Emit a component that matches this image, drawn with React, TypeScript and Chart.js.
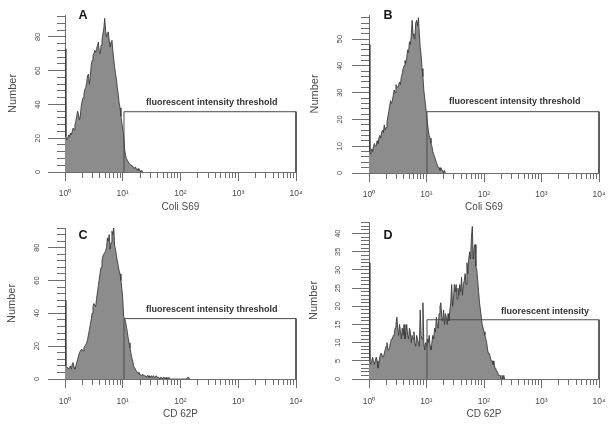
import React, { useEffect, useRef } from "react";
import { Chart, registerables } from "chart.js";

Chart.register(...registerables);

// ---------- data ----------
// Histogram counts per channel, 64 channels per decade, channel 0 = 10^0
const CHANNELS_PER_DECADE = 64;
const X_MIN = 1;
const X_MAX = 10000;
const DECADE_TICKS = [1, 10, 100, 1000, 10000];
const DECADE_LABELS = ["10⁰", "10¹", "10²", "10³", "10⁴"];
const MINOR_MULTIPLIERS = [1, 2, 3, 4, 5, 6, 7, 8, 9];

const countsA = [
  73, 21, 19, 20, 22, 21, 23, 22, 24, 26, 25, 28, 30, 33, 36, 34,
  31, 33, 39, 42, 44, 46, 49, 50, 53, 57, 58, 52, 56, 63, 66, 69,
  70, 72, 71, 73, 75, 77, 71, 70, 75, 78, 82, 85, 91, 84, 80, 82,
  83, 78, 74, 77, 78, 72, 67, 62, 58, 55, 50, 46, 41, 38, 33, 29,
  25, 22, 14, 10, 8, 7, 6, 5, 5, 4, 4, 3, 3, 2, 3, 2,
  1, 2, 1, 1, 0, 1, 0,
];

const countsB = [
  48, 8, 7, 9, 8, 10, 11, 10, 10, 12, 11, 13, 14, 13, 15, 16,
  15, 18, 16, 17, 19, 21, 23, 25, 27, 26, 27, 29, 31, 30, 33, 32,
  32, 33, 34, 33, 36, 37, 39, 40, 42, 41, 43, 46, 45, 49, 48, 51,
  57, 52, 51, 50, 56, 57, 55, 58, 52, 47, 44, 39, 36, 31, 28, 25,
  22, 19, 16, 14, 13, 11, 10, 8, 7, 6, 5, 4, 3, 2, 2, 1,
  2, 1, 1, 0, 1, 0,
];

const countsC = [
  48, 8, 7, 7, 6, 7, 8, 6, 9, 10, 7, 6, 8, 10, 12, 14,
  16, 17, 18, 18, 17, 19, 20, 21, 22, 24, 27, 30, 33, 36, 40, 44,
  46, 45, 44, 49, 53, 57, 61, 65, 68, 72, 75, 76, 77, 78, 80, 86,
  84, 88, 79, 83, 90, 88, 93, 81, 79, 75, 72, 69, 66, 64, 60, 55,
  49, 38, 37, 35, 32, 29, 25, 22, 19, 16, 13, 11, 8, 7, 6, 5,
  4, 4, 3, 3, 2, 2, 3, 2, 2, 2, 1, 2, 2, 1, 2, 1,
  2, 1, 2, 1, 1, 2, 1, 1, 1, 0, 1, 1, 0, 1, 1, 0,
  1, 0, 0, 1, 0, 0, 0, 0, 0, 0, 0, 0, 0, 0, 0, 0,
  0, 0, 0, 0, 0, 0, 0, 0, 1, 1, 0,
];

const countsD = [
  32, 5, 4, 5, 6, 5, 4, 5, 6, 5, 3, 4, 6, 7, 7, 6,
  6, 7, 8, 9, 10, 8, 8, 9, 10, 11, 11, 12, 12, 14, 15, 17,
  14, 12, 15, 13, 11, 14, 12, 15, 11, 13, 15, 12, 11, 14, 13, 10,
  12, 11, 13, 10, 9, 12, 11, 10, 9, 19, 12, 11, 21, 10, 8, 10,
  9, 11, 10, 12, 9, 8, 10, 12, 11, 14, 13, 17, 15, 14, 18, 20,
  21, 17, 16, 19, 15, 18, 17, 15, 18, 16, 19, 21, 26, 20, 22, 26,
  24, 26, 22, 25, 23, 26, 24, 28, 23, 26, 27, 29, 26, 32, 29, 33,
  35, 33, 39, 42, 33, 36, 37, 31, 30, 27, 24, 21, 19, 17, 15, 14,
  13, 12, 11, 10, 8, 7, 7, 6, 5, 5, 4, 5, 3, 3, 2, 2,
  1, 1, 1, 0, 1, 0, 1, 0,
];

// gate (threshold) start value and level
const gateStarts = [10.5, 10.2, 10.5, 10.2];
const gateLevels = [35.7, 22.9, 36.8, 16.3];
const yMaxes = [93, 59, 92, 43.2];
const yMinorSteps = [4, 2, 4, 1];
const yMajorSteps = [20, 10, 20, 5];
const xTitles = ["Coli S69", "Coli S69", "CD 62P", "CD 62P"];
const panelLetters = ["A", "B", "C", "D"];
const gateTexts = [
  "fluorescent intensity threshold",
  "fluorescent intensity threshold",
  "fluorescent intensity threshold",
  "fluorescent intensity",
];
const yTitle = "Number";

// ---------- layout / style ----------
const W = 306;
const H = 213;
const FONT_FAMILY = "'Liberation Sans', Arial, Helvetica, sans-serif";
const AXIS_COLOR = "#6e6e6e";
const TEXT_COLOR = "#4a4a4a";

type Layout = {
  left: number; top: number;
  areaLeft: number; areaTop: number; areaBottom: number; areaRight: number;
  yLabelPad: number; yTitlePad: number; xLabelPad: number; xTitlePad: number;
  letterPos: [number, number]; textPos: [number, number];
};

const layouts: Layout[] = [
  { left: 0, top: 0, areaLeft: 65, areaTop: 15, areaBottom: 172, areaRight: 296, yLabelPad: 6, yTitlePad: 6.5, xLabelPad: 10.5, xTitlePad: 0, letterPos: [83, 14.5], textPos: [211.7, 101.7] },
  { left: 306, top: 0, areaLeft: 63, areaTop: 15, areaBottom: 173, areaRight: 293, yLabelPad: 7.5, yTitlePad: 2.8, xLabelPad: 10.5, xTitlePad: 0, letterPos: [388, 14.5], textPos: [514.7, 100.7] },
  { left: 0, top: 213, areaLeft: 65, areaTop: 15, areaBottom: 166, areaRight: 296, yLabelPad: 7, yTitlePad: 5, xLabelPad: 11.5, xTitlePad: 6, letterPos: [83, 235], textPos: [211.7, 308.7] },
  { left: 306, top: 213, areaLeft: 63, areaTop: 9, areaBottom: 166, areaRight: 293, yLabelPad: 9.5, yTitlePad: 1.8, xLabelPad: 11.5, xTitlePad: 6, letterPos: [388, 235], textPos: [545, 310.7] },
];

const minorTicks: number[] = [];
for (let d = 0; d < DECADE_TICKS.length - 1; d++) {
  for (const m of MINOR_MULTIPLIERS) minorTicks.push(m * DECADE_TICKS[d]);
}
minorTicks.push(X_MAX);

const allCounts = [countsA, countsB, countsC, countsD];

function zeroPad(s: any) {
  s.paddingTop = 0;
  s.paddingBottom = 0;
  s.paddingLeft = 0;
  s.paddingRight = 0;
}

function Histogram({ idx }: { idx: number }) {
  const ref = useRef<HTMLCanvasElement>(null);
  const L = layouts[idx];
  useEffect(() => {
    const counts = allCounts[idx];
    const hist = counts.map((v, i) => ({ x: Math.pow(10, i / CHANNELS_PER_DECADE), y: v }));
    const gate = [
      { x: gateStarts[idx], y: 0 },
      { x: gateStarts[idx], y: gateLevels[idx] },
      { x: X_MAX, y: gateLevels[idx] },
      { x: X_MAX, y: 0 },
    ];
    const chart = new Chart(ref.current as HTMLCanvasElement, {
      type: "line",
      data: {
        datasets: [
          {
            data: gate,
            borderColor: "#4a4a4a",
            borderWidth: 1,
            pointRadius: 0,
            fill: false,
            tension: 0,
            order: 0,
            clip: false,
            xAxisID: "x",
            yAxisID: "y",
          } as any,
          {
            data: hist,
            borderColor: "#3a3a3a",
            borderWidth: 0.9,
            borderJoinStyle: "bevel",
            backgroundColor: "#8c8c8c",
            fill: "origin",
            pointRadius: 0,
            tension: 0,
            order: 1,
            xAxisID: "x",
            yAxisID: "y",
          } as any,
        ],
      },
      options: {
        animation: false,
        responsive: false,
        maintainAspectRatio: false,
        events: [],
        layout: { padding: { left: 0, right: W - L.areaRight, top: L.areaTop, bottom: 0 } },
        plugins: { legend: { display: false }, tooltip: { enabled: false }, title: { display: false } },
        scales: {
          // all (minor) ticks + decade labels + title
          x: {
            type: "logarithmic",
            position: "bottom",
            weight: 0,
            min: X_MIN,
            max: X_MAX,
            afterBuildTicks: (s: any) => { s.ticks = minorTicks.map((v) => ({ value: v })); },
            afterFit: (s: any) => { s.height = H - L.areaBottom; zeroPad(s); },
            grid: { drawOnChartArea: false, drawTicks: true, tickLength: 6, color: AXIS_COLOR },
            border: { display: true, color: AXIS_COLOR, width: 1 },
            ticks: {
              autoSkip: false,
              maxRotation: 0,
              minRotation: 0,
              padding: L.xLabelPad,
              color: TEXT_COLOR,
              font: { family: FONT_FAMILY, size: 8.5 },
              callback: (v: any) => {
                const k = DECADE_TICKS.indexOf(Number(v));
                return k >= 0 ? DECADE_LABELS[k] : "";
              },
            },
            title: {
              display: true,
              text: xTitles[idx],
              color: TEXT_COLOR,
              font: { family: FONT_FAMILY, size: 10 },
              padding: { top: 0, bottom: L.xTitlePad },
            },
          },
          // longer decade ticks
          x2: {
            type: "logarithmic",
            position: "bottom",
            weight: -1,
            min: X_MIN,
            max: X_MAX,
            afterBuildTicks: (s: any) => { s.ticks = DECADE_TICKS.map((v) => ({ value: v })); },
            afterFit: (s: any) => { s.height = 0; zeroPad(s); },
            grid: { drawOnChartArea: false, drawTicks: true, tickLength: 9, color: AXIS_COLOR },
            border: { display: false },
            ticks: { display: false },
          },
          y: {
            type: "linear",
            position: "left",
            weight: 0,
            min: 0,
            max: yMaxes[idx],
            afterFit: (s: any) => { s.width = 0; zeroPad(s); },
            grid: { drawOnChartArea: false, drawTicks: true, tickLength: 8, color: AXIS_COLOR },
            border: { display: true, color: AXIS_COLOR, width: 1 },
            ticks: { display: false, stepSize: yMinorSteps[idx], includeBounds: false },
          },
          y2: {
            type: "linear",
            position: "left",
            weight: 1,
            min: 0,
            max: yMaxes[idx],
            afterFit: (s: any) => { s.width = L.areaLeft; zeroPad(s); },
            grid: { drawOnChartArea: false, drawTicks: true, tickLength: 17, color: AXIS_COLOR },
            border: { display: false },
            ticks: {
              stepSize: yMajorSteps[idx],
              includeBounds: false,
              minRotation: 90,
              maxRotation: 90,
              crossAlign: "center",
              padding: L.yLabelPad,
              color: TEXT_COLOR,
              font: { family: FONT_FAMILY, size: 7.5 },
            },
            title: {
              display: true,
              text: yTitle,
              color: TEXT_COLOR,
              font: { family: FONT_FAMILY, size: 11 },
              padding: { top: L.yTitlePad, bottom: 0 },
            },
          },
        },
      } as any,
    });
    return () => chart.destroy();
  }, [idx]);
  return (
    <canvas
      ref={ref}
      width={W}
      height={H}
      style={{ position: "absolute", left: L.left, top: L.top, width: W, height: H }}
    />
  );
}

function Label({ x, y, text, size, color }: { x: number; y: number; text: string; size: number; color: string }) {
  return (
    <div
      style={{
        position: "absolute",
        left: x,
        top: y,
        transform: "translate(-50%, -50%)",
        fontFamily: FONT_FAMILY,
        fontWeight: "bold",
        fontSize: size,
        lineHeight: 1,
        color,
        whiteSpace: "nowrap",
      }}
    >
      {text}
    </div>
  );
}

export default function App() {
  return (
    <div style={{ position: "absolute", left: 0, top: 0, width: 612, height: 427, background: "#ffffff", overflow: "hidden" }}>
      {[0, 1, 2, 3].map((i) => (
        <Histogram key={i} idx={i} />
      ))}
      {[0, 1, 2, 3].map((i) => (
        <React.Fragment key={"t" + i}>
          <Label x={layouts[i].letterPos[0]} y={layouts[i].letterPos[1]} text={panelLetters[i]} size={12.5} color="#151515" />
          <Label x={layouts[i].textPos[0]} y={layouts[i].textPos[1]} text={gateTexts[i]} size={9} color="#333333" />
        </React.Fragment>
      ))}
    </div>
  );
}
